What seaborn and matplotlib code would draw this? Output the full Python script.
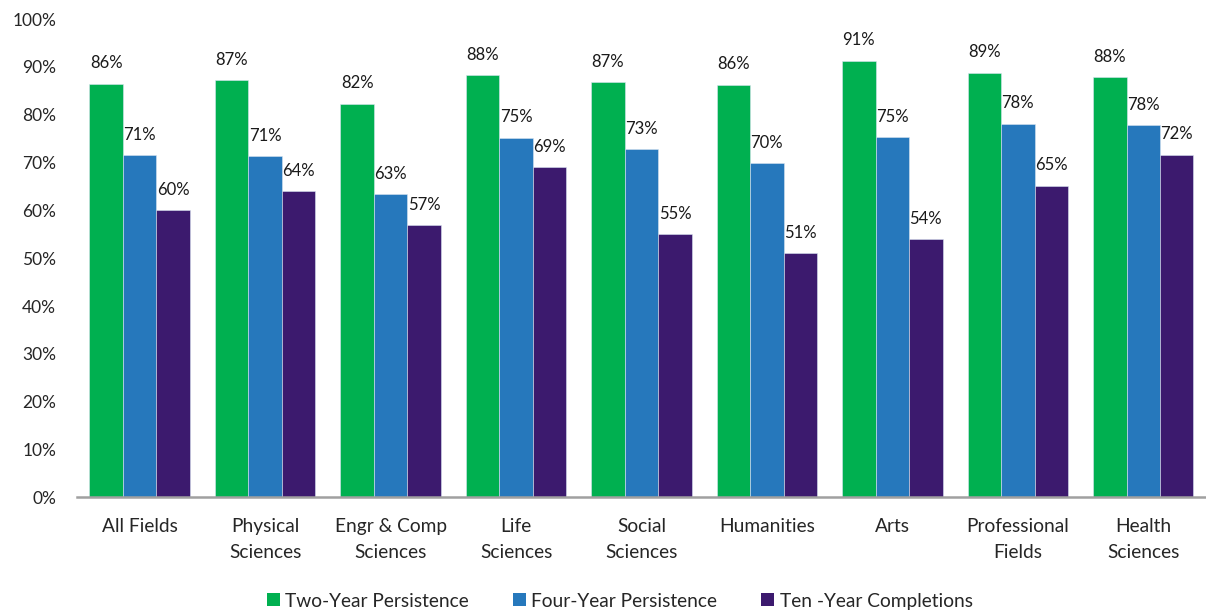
import pandas as pd
import numpy as np
import matplotlib.pyplot as plt
import seaborn as sns
from matplotlib.patches import Patch

fields = ['All Fields', 'Physical\nSciences', 'Engr & Comp\nSciences', 'Life\nSciences',
          'Social\nSciences', 'Humanities', 'Arts', 'Professional\nFields', 'Health\nSciences']
series = ['Two-Year Persistence', 'Four-Year Persistence', 'Ten -Year Completions']

two_year = [86.5, 87.2, 82.3, 88.2, 86.8, 86.3, 91.3, 88.8, 87.8]
four_year = [71.5, 71.3, 63.4, 75.2, 72.8, 69.9, 75.3, 78.1, 77.8]
ten_year = [60.0, 64.0, 56.9, 69.0, 55.0, 51.0, 54.0, 65.1, 71.6]

two_year_lbl = ['86%', '87%', '82%', '88%', '87%', '86%', '91%', '89%', '88%']
four_year_lbl = ['71%', '71%', '63%', '75%', '73%', '70%', '75%', '78%', '78%']
ten_year_lbl = ['60%', '64%', '57%', '69%', '55%', '51%', '54%', '65%', '72%']

colors = ['#00B050', '#2678BC', '#3C1A6E']

df = pd.DataFrame({
    'field': fields * 3,
    'series': np.repeat(series, len(fields)),
    'value': two_year + four_year + ten_year,
})

sns.set_style('white')
plt.rcParams['font.family'] = ['Lato', 'DejaVu Sans']

fig = plt.figure(figsize=(12.06, 6.14), dpi=100)
ax = fig.add_axes([0.0638, 0.19, 0.9362, 0.779])

sns.barplot(data=df, x='field', y='value', hue='series', palette=colors,
            saturation=1, width=0.8, ax=ax, legend=False,
            edgecolor='#d8e4f0', linewidth=0.4)

for cont, lbl in zip(ax.containers, [two_year_lbl, four_year_lbl, ten_year_lbl]):
    ax.bar_label(cont, labels=lbl, padding=9, fontsize=12, color='#1a1a1a')

ax.set_ylim(0, 100)
ax.set_xlim(-0.5, 8.5)
ax.set_yticks(range(0, 101, 10))
ax.set_yticklabels([f'{v}%' for v in range(0, 101, 10)], fontsize=12.5)
ax.tick_params(axis='y', length=0, pad=15)
ax.tick_params(axis='x', length=0, pad=15, labelsize=13.8)
for t in ax.get_xticklabels():
    t.set_linespacing(1.6)
ax.set_xlabel('')
ax.set_ylabel('')
for s in ['top', 'right', 'left']:
    ax.spines[s].set_visible(False)
ax.spines['bottom'].set_color('#A0A0A0')
ax.spines['bottom'].set_linewidth(1.8)
ax.grid(False)

handles = [Patch(facecolor=c, edgecolor='none') for c in colors]
fig.legend(handles, series, loc='center', bbox_to_anchor=(0.514, 0.021), ncol=3,
           frameon=False, fontsize=13.8, handlelength=0.65, handleheight=0.65,
           handletextpad=0.3, columnspacing=2.3, borderaxespad=0)

fig.savefig('out.png', dpi=100)
